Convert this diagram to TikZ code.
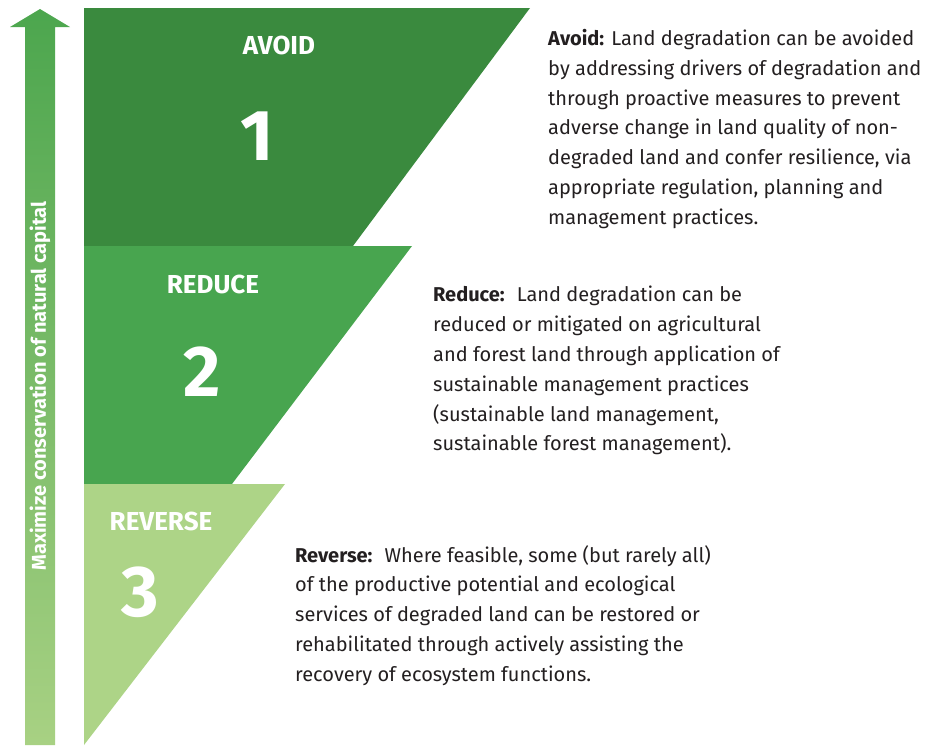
\documentclass[tikz,border=0pt]{standalone}
\usepackage{fontspec}
\setmainfont{Fira Sans}
\definecolor{avoidgreen}{HTML}{3A8A3E}
\definecolor{reducegreen}{HTML}{48A54F}
\definecolor{reversegreen}{HTML}{ADD487}
\definecolor{arrowtop}{HTML}{4CA64E}
\definecolor{arrowbottom}{HTML}{A8D183}
\definecolor{bodytext}{HTML}{231F20}

\begin{document}
\begin{tikzpicture}[
        x=1pt,y=-1pt,
        bandname/.style={text=white,font={\fontsize{26}{26}\selectfont\bfseries}},
        bandnum/.style={text=white,font={\fontsize{72}{72}\selectfont\bfseries}},
        desc/.style={anchor=north west,inner sep=0pt,align=left,text=bodytext,
                     font={\fontsize{20}{29.8}\selectfont}},
      ]
      \useasboundingbox (0,0) rectangle (932,745);
      % Vertical arrow, lighter towards the bottom
      \shade[top color=arrowtop,bottom color=arrowbottom]
        (40,9) -- (70,27) -- (55,27) -- (55,745) -- (25,745) -- (25,27) -- (10,27) -- cycle;
      \node[rotate=90,text=white,font={\fontsize{20}{20}\selectfont\bfseries}] (capital) at (40,386)
        {Maximize conservation of natural capital};
      % The three bands: top, bottom, right edge at top, right edge at bottom
      \foreach \ytop\ybot\xtop\xbot\col in {8/246/530/353/avoidgreen,
                                           246/484/412/232/reducegreen,
                                           484/745/285/84/reversegreen}{
        \fill[\col] (84,\ytop) -- (\xtop,\ytop) -- (\xbot,\ybot) -- (84,\ybot) -- cycle;
      }
      % Names and numbers
      \foreach \nm\txt\num\xx\yy\xn\yn in {avoid/AVOID/1/279/45/257/136,
                                            reduce/REDUCE/2/213/284/202/372,
                                            reverse/REVERSE/3/161/521/140/592}{
        \node[bandname] (\nm-name) at (\xx,\yy) {\txt};
        \node[bandnum] (\nm-num) at (\xn,\yn) {\num};
      }
      % Descriptions
      \node[desc] (avoid-text) at (548,29) {\textbf{Avoid:} Land degradation can be avoided\\
        by addressing drivers of degradation and\\
        through proactive measures to prevent\\
        adverse change in land quality of non-\\
        degraded land and confer resilience, via\\
        appropriate regulation, planning and\\
        management practices.};
      \node[desc] (reduce-text) at (433,286) {\textbf{Reduce:}\hspace{5pt} Land degradation can be\\
        reduced or mitigated on agricultural\\
        and forest land through application of\\
        sustainable management practices\\
        (sustainable land management,\\
        sustainable forest management).};
      \node[desc] (reverse-text) at (295,545) {\textbf{Reverse:}\hspace{5pt} Where feasible, some (but rarely all)\\
        of the productive potential and ecological\\
        services of degraded land can be restored or\\
        rehabilitated through actively assisting the\\
        recovery of ecosystem functions.};
    \end{tikzpicture}
\end{document}
